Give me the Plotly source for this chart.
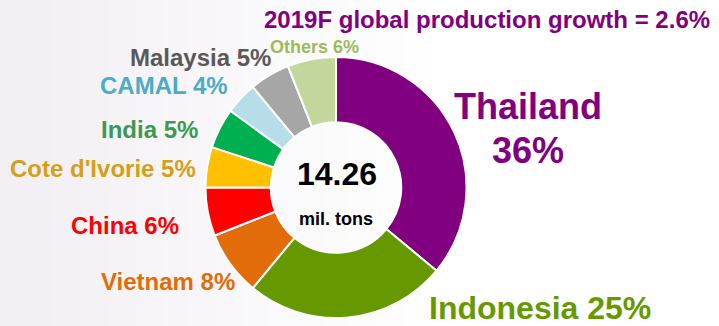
import plotly.graph_objects as go

W, H = 719, 326

countries = ["Thailand", "Indonesia", "Vietnam", "China", "Cote d'Ivorie",
             "India", "CAMAL", "Malaysia", "Others"]
shares = [36, 25, 8, 6, 5, 5, 4, 5, 6]
slice_colors = ["#800080", "#669900", "#E36C0A", "#FF0000", "#FFC000",
                "#00B050", "#B7DEE8", "#A6A6A6", "#C3D69B"]
label_colors = ["#800080", "#669900", "#E36C0A", "#FF0000", "#D4A017",
                "#3C9A50", "#4BACC6", "#595959", "#9BBB59"]
total_text = "14.26"
unit_text = "mil. tons"
title_text = "2019F global production growth = 2.6%"

FONT = "Liberation Sans, Arial, sans-serif"

fig = go.Figure()
fig.add_trace(go.Pie(
    labels=countries,
    values=shares,
    sort=False,
    direction="clockwise",
    rotation=0,
    hole=0.5,
    marker=dict(colors=slice_colors, line=dict(color="white", width=2)),
    textinfo="none",
    hoverinfo="label+percent",
    showlegend=False,
    domain=dict(x=[205 / W, 467 / W], y=[1 - 318 / H, 1 - 57 / H]),
))

def px(x):
    return x / W

def py(y):
    return 1 - y / H

annotations = []

def ann(text, x, y, size, color, xanchor="center"):
    annotations.append(dict(
        text=text, x=px(x), y=py(y), xref="paper", yref="paper",
        xanchor=xanchor, yanchor="middle", showarrow=False,
        font=dict(family=FONT, size=size, color=color, weight="bold"),
    ))

# Title
ann(title_text, 712, 19, 24, "#800080", xanchor="right")
# Center
ann(total_text, 337, 174, 32, "#000000")
ann(unit_text, 336, 219, 18, "#000000")
# Labels with shares
lbl = {c: f"{c} {s}%" for c, s in zip(countries, shares)}
ann("Thailand", 528, 106, 36, label_colors[0])
ann(f"{shares[0]}%", 528, 150, 36, label_colors[0])
ann(lbl["Indonesia"], 427, 308, 32, label_colors[1], xanchor="left")
ann(lbl["Vietnam"], 237, 281, 24, label_colors[2], xanchor="right")
ann(lbl["China"], 181, 225, 24, label_colors[3], xanchor="right")
ann(lbl["Cote d'Ivorie"], 198, 168, 24, label_colors[4], xanchor="right")
ann(lbl["India"], 200, 130, 24, label_colors[5], xanchor="right")
ann(lbl["CAMAL"], 230, 85, 24, label_colors[6], xanchor="right")
ann(lbl["Malaysia"], 273, 58, 24, label_colors[7], xanchor="right")
ann(lbl["Others"], 268, 47, 18, label_colors[8], xanchor="left")

# soft lavender background fading to white on the right
shapes = []
n = 16
for i in range(n):
    t = i / n
    r = int(243 + (255 - 243) * t)
    g = int(240 + (255 - 240) * t)
    b = int(245 + (255 - 245) * t)
    shapes.append(dict(type="rect", xref="paper", yref="paper",
                       x0=i * 0.6 / n, x1=(i + 1) * 0.6 / n + 0.002, y0=0, y1=1,
                       fillcolor=f"rgb({r},{g},{b})", line=dict(width=0),
                       layer="below"))

fig.update_layout(
    width=W, height=H,
    margin=dict(l=0, r=0, t=0, b=0),
    paper_bgcolor="white",
    plot_bgcolor="white",
    annotations=annotations,
    shapes=shapes,
)

fig.write_html("out.html")
